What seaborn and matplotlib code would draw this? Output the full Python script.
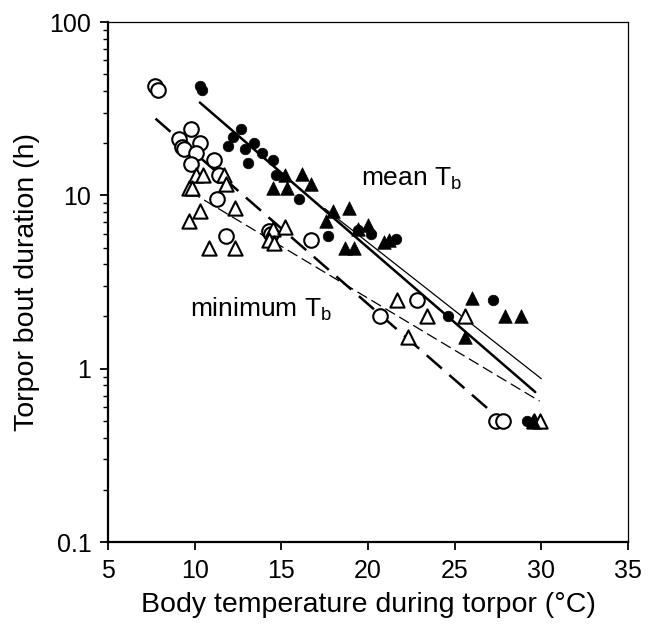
import matplotlib
matplotlib.use("Agg")
import matplotlib.pyplot as plt
import seaborn as sns
import pandas as pd
from matplotlib.ticker import LogLocator, FixedLocator, NullFormatter

# ---- data ----
mean_circ_x = [10.3, 10.4, 12.7, 12.2, 11.9, 13.4, 12.9, 13.9, 13.1, 14.5, 14.7, 16.0, 17.7, 19.4, 20.2, 21.6, 24.6, 27.2, 29.2]
mean_circ_y = [42.5, 40.7, 24.1, 21.6, 19.2, 20.1, 18.4, 17.5, 15.3, 16.0, 13.1, 9.5, 5.8, 6.3, 6.0, 5.6, 2.0, 2.5, 0.5]

mean_tri_x = [14.5, 15.2, 15.3, 16.2, 16.7, 18.0, 17.6, 18.9, 18.7, 19.2, 19.4, 20.0, 20.9, 21.2, 26.0, 25.6, 27.9, 28.8, 29.5]
mean_tri_y = [11.0, 13.1, 11.0, 13.2, 11.6, 8.1, 7.1, 8.5, 5.0, 5.0, 6.4, 6.7, 5.4, 5.5, 2.55, 1.52, 2.0, 2.0, 0.5]

min_circ_x = [7.7, 7.9, 9.8, 9.1, 9.25, 9.4, 10.3, 10.1, 9.8, 11.1, 11.4, 11.3, 11.8, 14.3, 14.4, 16.7, 20.7, 22.8, 27.4, 27.8]
min_circ_y = [42.5, 40.7, 24.1, 21.0, 19.0, 18.4, 20.1, 17.5, 15.2, 16.0, 13.1, 9.5, 5.8, 6.2, 6.0, 5.5, 2.0, 2.5, 0.5, 0.5]

min_tri_x = [10.1, 10.5, 9.7, 9.85, 9.7, 10.3, 10.8, 11.7, 11.8, 12.3, 12.3, 14.5, 15.2, 14.3, 14.6, 21.7, 23.4, 25.6, 22.3, 29.6, 29.9]
min_tri_y = [13.1, 13.1, 11.0, 11.0, 7.1, 8.1, 5.0, 13.1, 11.6, 8.5, 5.0, 6.4, 6.6, 5.5, 5.3, 2.5, 2.0, 2.0, 1.52, 0.5, 0.5]

# regression lines (end points)
fit_mean_thick_x = [10.3, 29.65]
fit_mean_thick_y = [34.3, 0.733]
fit_mean_thin_x = [17.5, 30.0]
fit_mean_thin_y = [8.4, 0.875]
fit_min_thick_x = [7.74, 27.2]
fit_min_thick_y = [27.7, 0.555]
fit_min_thin_x = [9.74, 29.9]
fit_min_thin_y = [10.5, 0.65]

x_ticks = [5, 10, 15, 20, 25, 30, 35]
y_ticks = [0.1, 1, 10, 100]
y_tick_labels = ["0.1", "1", "10", "100"]

# ---- style ----
sns.set_style("ticks")
plt.rcParams["font.family"] = ["Liberation Sans", "DejaVu Sans"]
plt.rcParams["mathtext.default"] = "regular"
plt.rcParams["text.color"] = "black"
plt.rcParams["axes.labelcolor"] = "black"

fig = plt.figure(figsize=(6.59, 6.30), dpi=100)
ax = fig.add_axes([108 / 659, 1 - 542 / 630, 520 / 659, 520 / 630])

# lines
sns.lineplot(x=fit_mean_thick_x, y=fit_mean_thick_y, ax=ax, color="black", lw=1.8)
sns.lineplot(x=fit_mean_thin_x, y=fit_mean_thin_y, ax=ax, color="black", lw=0.9)
sns.lineplot(x=fit_min_thick_x, y=fit_min_thick_y, ax=ax, color="black", lw=1.8)
ax.lines[-1].set_dashes([8, 4])
sns.lineplot(x=fit_min_thin_x, y=fit_min_thin_y, ax=ax, color="black", lw=0.9)
ax.lines[-1].set_dashes([9, 4])

# points
df_oc = pd.DataFrame({"x": min_circ_x, "y": min_circ_y})
df_ot = pd.DataFrame({"x": min_tri_x, "y": min_tri_y})
df_fc = pd.DataFrame({"x": mean_circ_x, "y": mean_circ_y})
df_ft = pd.DataFrame({"x": mean_tri_x, "y": mean_tri_y})

sns.scatterplot(data=df_oc, x="x", y="y", ax=ax, marker="o", s=110,
                facecolor="white", edgecolor="black", linewidth=1.5, zorder=3)
sns.scatterplot(data=df_ot, x="x", y="y", ax=ax, marker="^", s=105,
                facecolor="white", edgecolor="black", linewidth=1.5, zorder=3)
sns.scatterplot(data=df_fc, x="x", y="y", ax=ax, marker="o", s=58,
                color="black", edgecolor="black", linewidth=0.5, zorder=4)
sns.scatterplot(data=df_ft, x="x", y="y", ax=ax, marker="^", s=95,
                color="black", edgecolor="black", linewidth=0.5, zorder=4)

ax.set_yscale("log")
ax.set_xlim(5, 35)
ax.set_ylim(0.1, 100)
ax.set_xticks(x_ticks)
ax.set_xticklabels([str(t) for t in x_ticks])
ax.yaxis.set_major_locator(FixedLocator(y_ticks))
ax.set_yticklabels(y_tick_labels)
ax.yaxis.set_minor_locator(LogLocator(base=10, subs=range(2, 10)))
ax.yaxis.set_minor_formatter(NullFormatter())

ax.tick_params(axis="both", which="major", direction="out", length=6, width=1.3,
               labelsize=18, color="black", labelcolor="black", pad=6)
ax.tick_params(axis="y", which="minor", direction="out", length=3.5, width=1.0, color="black")

for side in ["left", "bottom"]:
    ax.spines[side].set_linewidth(1.6)
for side in ["top", "right"]:
    ax.spines[side].set_linewidth(0.9)
for s in ax.spines.values():
    s.set_color("black")

ax.set_xlabel("Body temperature during torpor (°C)", fontsize=20.5, labelpad=7)
ax.set_ylabel("Torpor bout duration (h)", fontsize=20.5, labelpad=7)

ax.text(19.57, 11.4, "mean T$_{b}$", fontsize=19, ha="left", va="baseline", color="black")
ax.text(9.74, 2.0, "minimum T$_{b}$", fontsize=19, ha="left", va="baseline", color="black")

fig.savefig("out.png", dpi=100, facecolor="white")
